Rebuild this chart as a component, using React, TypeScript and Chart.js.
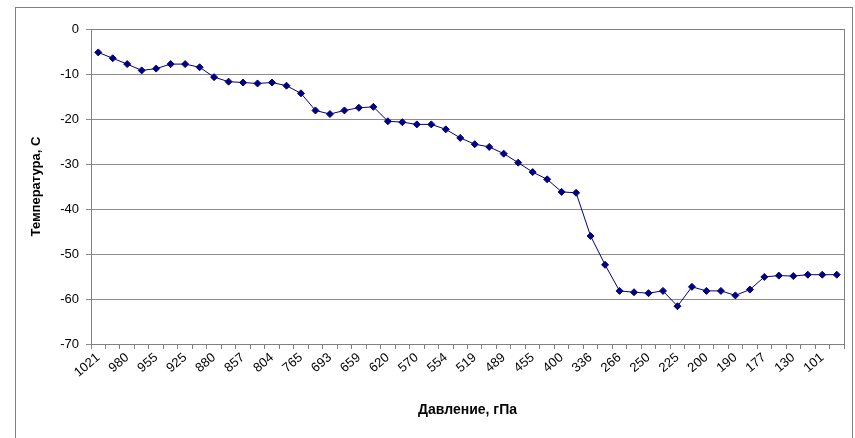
import React, { useEffect, useRef } from "react";
import { Chart, registerables } from "chart.js";

Chart.register(...registerables);

const pressures: string[] = [
  "1021", "1000", "980", "967", "955", "940", "925", "900", "880", "868",
  "857", "850", "804", "781", "765", "700", "693", "675", "659", "637",
  "620", "600", "570", "561", "554", "532", "519", "500", "489", "470",
  "455", "427", "400", "372", "336", "300", "266", "257", "250", "239",
  "225", "212", "200", "195", "190", "183", "177", "150", "130", "113",
  "101", "100",
];

const temperatures: number[] = [
  -5.2, -6.5, -7.8, -9.2, -8.8, -7.8, -7.8, -8.5, -10.7, -11.7,
  -11.9, -12.1, -11.9, -12.6, -14.3, -18.1, -18.9, -18.1, -17.5, -17.3,
  -20.5, -20.7, -21.2, -21.2, -22.3, -24.2, -25.6, -26.2, -27.7, -29.7,
  -31.8, -33.4, -36.2, -36.4, -46.0, -52.4, -58.2, -58.5, -58.7, -58.2,
  -61.6, -57.3, -58.2, -58.2, -59.2, -57.9, -55.1, -54.8, -54.9, -54.6,
  -54.6, -54.6,
];

const xTitle = "Давление, гПа";
const yTitle = "Температура, С";

const FONT = "Arial, 'Liberation Sans', sans-serif";

const borderPlugin = {
  id: "areaBorder",
  afterDraw(chart: any) {
    const { ctx, chartArea } = chart;
    ctx.save();
    ctx.strokeStyle = "#808080";
    ctx.lineWidth = 1;
    ctx.strokeRect(
      Math.round(chartArea.left) + 0.5,
      Math.round(chartArea.top) + 0.5,
      Math.round(chartArea.right - chartArea.left),
      Math.round(chartArea.bottom - chartArea.top)
    );
    ctx.restore();
  },
};

export default function App() {
  const ref = useRef<HTMLCanvasElement | null>(null);

  useEffect(() => {
    if (!ref.current) return;
    const chart = new Chart(ref.current, {
      type: "line",
      data: {
        labels: pressures,
        datasets: [
          {
            data: temperatures,
            borderColor: "#000080",
            backgroundColor: "#000080",
            borderWidth: 1,
            pointStyle: "rectRot",
            pointRadius: 3.5,
            pointBorderWidth: 1,
            pointBorderColor: "#000080",
            pointBackgroundColor: "#000080",
            tension: 0,
          },
        ],
      },
      options: {
        animation: false,
        responsive: false,
        maintainAspectRatio: false,
        layout: { padding: { top: 21, right: 8, left: 0, bottom: 0 } },
        plugins: {
          legend: { display: false },
          tooltip: { enabled: false },
        },
        scales: {
          x: {
            type: "category",
            offset: true,
            afterFit(scale: any) {
              scale.height = 108;
            },
            grid: {
              offset: true,
              drawOnChartArea: false,
              drawTicks: true,
              tickLength: 5,
              color: "#808080",
            },
            border: { color: "#808080" },
            ticks: {
              autoSkip: false,
              maxRotation: 40,
              minRotation: 40,
              padding: 1,
              color: "#000000",
              font: { family: FONT, size: 13 },
              callback: (_v: any, i: number) => (i % 2 === 0 ? pressures[i] : ""),
            },
            title: {
              display: true,
              text: xTitle,
              color: "#000000",
              font: { family: FONT, size: 14, weight: "bold" },
              padding: { top: 0, bottom: 33 },
            },
          },
          y: {
            min: -70,
            max: 0,
            afterFit(scale: any) {
              scale.width = 75;
            },
            grid: {
              color: "#8c8c8c",
              drawTicks: true,
              tickLength: 5,
            },
            border: { color: "#808080" },
            ticks: {
              stepSize: 10,
              padding: 7,
              color: "#000000",
              font: { family: FONT, size: 13 },
            },
            title: {
              display: true,
              text: yTitle,
              color: "#000000",
              font: { family: FONT, size: 13, weight: "bold" },
              padding: { top: 13, bottom: 0 },
            },
          },
        },
      },
      plugins: [borderPlugin],
    });
    return () => chart.destroy();
  }, []);

  return (
    <div
      style={{
        position: "fixed",
        left: 15,
        top: 7,
        width: 838,
        height: 446,
        border: "1px solid #808080",
        boxSizing: "border-box",
        background: "#ffffff",
      }}
    >
      <canvas ref={ref} width={836} height={444} style={{ display: "block" }} />
    </div>
  );
}
